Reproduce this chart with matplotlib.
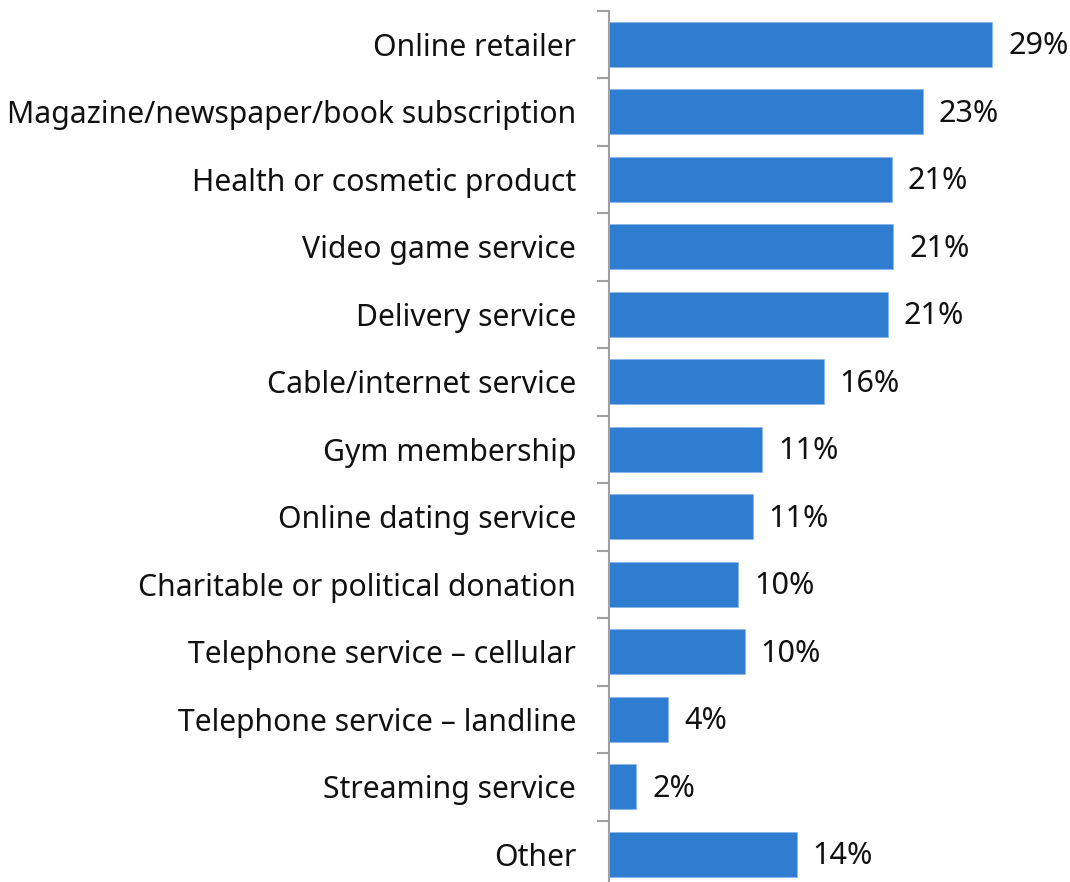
import matplotlib
matplotlib.use("Agg")
import matplotlib.pyplot as plt
import numpy as np

categories = [
    "Online retailer",
    "Magazine/newspaper/book subscription",
    "Health or cosmetic product",
    "Video game service",
    "Delivery service",
    "Cable/internet service",
    "Gym membership",
    "Online dating service",
    "Charitable or political donation",
    "Telephone service \u2013 cellular",
    "Telephone service \u2013 landline",
    "Streaming service",
    "Other",
]
shares = [28.6, 23.4, 21.1, 21.2, 20.8, 16.0, 11.4, 10.7, 9.6, 10.1, 4.4, 2.0, 14.0]

plt.rcParams["font.family"] = ["Noto Sans", "DejaVu Sans"]

W, H, DPI = 1070, 882, 100
fig = plt.figure(figsize=(W / DPI, H / DPI), dpi=DPI)

left_px, top_px, band_px = 609.5, 10.5, 67.5
n = len(categories)
axes_h = band_px * n
ax = fig.add_axes([left_px / W, (H - top_px - axes_h) / H,
                   (W - left_px) / W, axes_h / H])

y = np.arange(n)
bar_color = "#2E7DD1"
ax.barh(y, shares, height=0.667, color=bar_color, edgecolor="#8DB8E8", linewidth=0.6)

ax.set_ylim(n - 0.5, -0.5)
ax.set_xlim(0, (W - left_px) / 13.38)

for s in ["top", "right", "bottom"]:
    ax.spines[s].set_visible(False)
ax.spines["left"].set_color("#A0A0A0")
ax.spines["left"].set_linewidth(1.5)
ax.set_xticks([])

# category names centred on bars, ticks between them
ax.set_yticks(y)
ax.set_yticklabels(categories, fontsize=21.7, color="#111111")
ax.tick_params(axis="y", which="major", length=0, pad=24)
ax.set_yticks(np.arange(-0.5, n, 1.0), minor=True)
ax.tick_params(axis="y", which="minor", length=8.6, width=1.5, color="#A0A0A0")

for yi, v in zip(y, shares):
    ax.annotate(f"{v:.0f}%", xy=(v, yi), xytext=(11.5, -1.5), textcoords="offset points",
                ha="left", va="center", fontsize=22, color="#111111")

fig.savefig("out.png", dpi=DPI)
